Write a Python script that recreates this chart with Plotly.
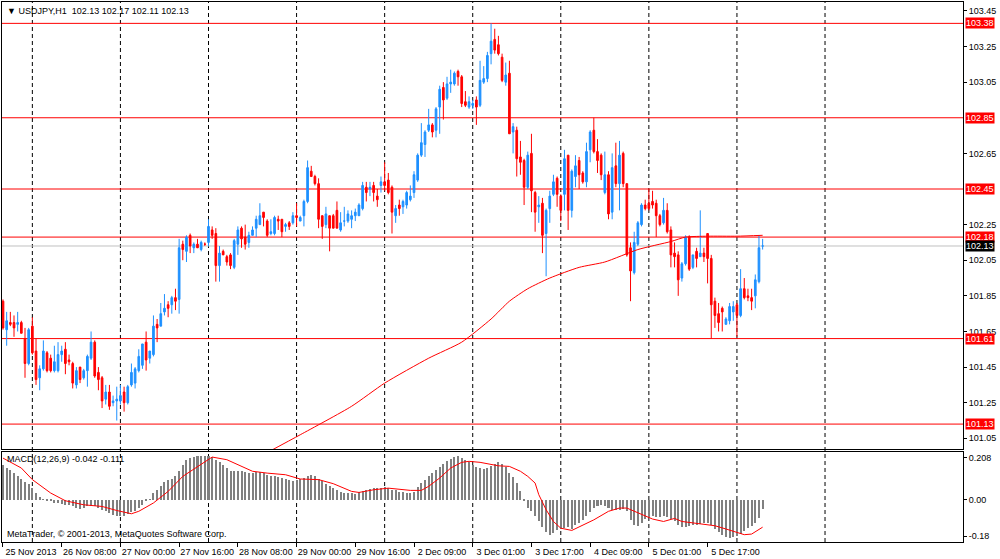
import plotly.graph_objects as go

# ---------------- data ----------------
OPEN = [
    101.82, 101.66, 101.70, 101.70, 101.69, 101.70, 101.61, 101.47, 101.68, 101.54,
    101.39, 101.44, 101.53, 101.50, 101.43, 101.43, 101.52, 101.55, 101.49, 101.47,
    101.35, 101.45, 101.39, 101.43, 101.50, 101.59, 101.42, 101.39, 101.27, 101.31,
    101.25, 101.26, 101.26, 101.31, 101.25, 101.35, 101.36, 101.43, 101.46, 101.59,
    101.50, 101.52, 101.69, 101.68, 101.76, 101.80, 101.80, 101.84, 101.83, 102.14,
    102.10, 102.19, 102.12, 102.14, 102.11, 102.14, 102.15, 102.22, 102.20, 102.02,
    102.10, 102.07, 102.08, 102.01, 102.14, 102.23, 102.18, 102.15, 102.19, 102.23,
    102.25, 102.32, 102.27, 102.20, 102.20, 102.28, 102.28, 102.24, 102.26, 102.26,
    102.30, 102.27, 102.30, 102.38, 102.55, 102.52, 102.48, 102.30, 102.25, 102.30,
    102.30, 102.33, 102.22, 102.27, 102.27, 102.28, 102.30, 102.30, 102.34, 102.46,
    102.45, 102.47, 102.41, 102.47, 102.49, 102.50, 102.46, 102.30, 102.36, 102.35,
    102.36, 102.39, 102.43, 102.50, 102.64, 102.70, 102.78, 102.81, 102.78, 102.91,
    103.02, 102.96, 103.04, 103.04, 103.11, 103.08, 102.94, 102.91, 102.92, 102.95,
    102.92, 103.05, 103.07, 103.21, 103.29, 103.26, 103.19, 103.05, 103.10, 102.77,
    102.78, 102.63, 102.61, 102.46, 102.65, 102.43, 102.35, 102.37, 102.20, 102.34,
    102.42, 102.51, 102.41, 102.42, 102.64, 102.33, 102.52, 102.61, 102.54, 102.49,
    102.67, 102.78, 102.66, 102.64, 102.43, 102.53, 102.32, 102.58, 102.48, 102.65,
    102.48, 102.12, 101.98, 102.14, 102.25, 102.36, 102.37, 102.38, 102.37, 102.30,
    102.26, 102.33, 102.22, 102.09, 102.08, 101.95, 102.03, 102.18, 102.01, 102.10,
    102.07, 102.09, 102.20, 102.06, 101.82, 101.75, 101.78, 101.69, 101.71, 101.76,
    101.80, 101.74, 101.89, 101.85, 101.84, 101.85, 101.93, 102.13,
]
HIGH = [
    101.83, 101.76, 101.76, 101.74, 101.76, 101.71, 101.67, 101.67, 101.73, 101.61,
    101.46, 101.60, 101.54, 101.52, 101.57, 101.59, 101.57, 101.59, 101.52, 101.48,
    101.45, 101.45, 101.44, 101.52, 101.65, 101.60, 101.45, 101.40, 101.35, 101.35,
    101.29, 101.34, 101.35, 101.34, 101.35, 101.47, 101.45, 101.55, 101.58, 101.65,
    101.54, 101.74, 101.72, 101.81, 101.86, 101.82, 101.85, 101.89, 102.17, 102.16,
    102.19, 102.20, 102.15, 102.17, 102.16, 102.15, 102.28, 102.24, 102.23, 102.13,
    102.11, 102.08, 102.09, 102.17, 102.24, 102.24, 102.25, 102.21, 102.24, 102.30,
    102.37, 102.32, 102.28, 102.28, 102.30, 102.30, 102.28, 102.26, 102.27, 102.32,
    102.37, 102.30, 102.39, 102.61, 102.58, 102.53, 102.51, 102.30, 102.35, 102.30,
    102.31, 102.38, 102.32, 102.35, 102.33, 102.33, 102.34, 102.37, 102.49, 102.49,
    102.49, 102.49, 102.45, 102.52, 102.60, 102.54, 102.47, 102.36, 102.39, 102.39,
    102.44, 102.47, 102.55, 102.65, 102.82, 102.78, 102.90, 102.82, 102.91, 103.03,
    103.05, 103.08, 103.12, 103.11, 103.12, 103.09, 103.00, 102.97, 102.95, 102.97,
    103.17, 103.14, 103.22, 103.38, 103.35, 103.31, 103.21, 103.16, 103.17, 102.82,
    102.80, 102.72, 102.62, 102.66, 102.76, 102.44, 102.41, 102.40, 102.34, 102.44,
    102.53, 102.52, 102.42, 102.67, 102.64, 102.56, 102.64, 102.63, 102.55, 102.71,
    102.78, 102.85, 102.73, 102.65, 102.66, 102.55, 102.65, 102.71, 102.72, 102.66,
    102.48, 102.15, 102.21, 102.27, 102.37, 102.39, 102.45, 102.44, 102.39, 102.31,
    102.40, 102.37, 102.24, 102.15, 102.10, 102.04, 102.19, 102.19, 102.08, 102.12,
    102.33, 102.12, 102.20, 102.08, 101.84, 101.81, 101.79, 101.73, 101.81, 101.82,
    101.81, 102.00, 101.95, 101.89, 101.89, 101.97, 102.19, 102.17,
]
LOW = [
    101.66, 101.57, 101.68, 101.62, 101.65, 101.64, 101.39, 101.46, 101.52, 101.35,
    101.32, 101.43, 101.42, 101.42, 101.42, 101.42, 101.48, 101.41, 101.46, 101.33,
    101.33, 101.36, 101.38, 101.34, 101.49, 101.39, 101.32, 101.22, 101.24, 101.21,
    101.23, 101.15, 101.24, 101.20, 101.24, 101.34, 101.33, 101.42, 101.44, 101.43,
    101.47, 101.51, 101.59, 101.68, 101.74, 101.73, 101.75, 101.77, 101.75, 102.05,
    102.04, 102.09, 102.09, 102.12, 102.10, 102.13, 102.13, 102.17, 101.93, 101.93,
    102.08, 102.02, 102.00, 102.00, 102.08, 102.12, 102.11, 102.12, 102.19, 102.18,
    102.25, 102.24, 102.18, 102.19, 102.19, 102.22, 102.18, 102.21, 102.22, 102.25,
    102.24, 102.27, 102.24, 102.37, 102.52, 102.47, 102.23, 102.17, 102.23, 102.10,
    102.23, 102.23, 102.21, 102.24, 102.26, 102.23, 102.27, 102.30, 102.33, 102.38,
    102.41, 102.38, 102.35, 102.43, 102.44, 102.42, 102.20, 102.26, 102.30, 102.31,
    102.34, 102.38, 102.40, 102.49, 102.63, 102.63, 102.77, 102.74, 102.74, 102.76,
    102.84, 102.95, 102.99, 103.03, 103.03, 102.91, 102.91, 102.90, 102.90, 102.81,
    102.91, 103.04, 103.05, 103.15, 103.21, 103.20, 103.05, 103.03, 102.76, 102.65,
    102.52, 102.53, 102.36, 102.45, 102.32, 102.21, 102.26, 102.09, 101.96, 102.26,
    102.41, 102.35, 102.27, 102.33, 102.22, 102.29, 102.46, 102.45, 102.48, 102.46,
    102.60, 102.65, 102.54, 102.50, 102.42, 102.28, 102.28, 102.46, 102.33, 102.46,
    102.07, 101.82, 101.97, 102.13, 102.24, 102.33, 102.33, 102.34, 102.18, 102.24,
    102.25, 102.20, 102.01, 102.01, 101.85, 101.93, 102.02, 101.99, 102.00, 102.01,
    102.07, 102.04, 101.92, 101.61, 101.67, 101.65, 101.65, 101.69, 101.69, 101.71,
    101.62, 101.73, 101.83, 101.82, 101.77, 101.78, 101.92, 102.11,
]
CLOSE = [
    101.67, 101.71, 101.69, 101.67, 101.70, 101.64, 101.47, 101.66, 101.53, 101.38,
    101.44, 101.54, 101.43, 101.43, 101.48, 101.52, 101.54, 101.47, 101.48, 101.36,
    101.43, 101.38, 101.43, 101.51, 101.59, 101.40, 101.38, 101.26, 101.31, 101.23,
    101.26, 101.27, 101.29, 101.25, 101.34, 101.42, 101.44, 101.51, 101.58, 101.49,
    101.54, 101.68, 101.67, 101.75, 101.78, 101.78, 101.84, 101.82, 102.12, 102.11,
    102.18, 102.13, 102.14, 102.12, 102.15, 102.14, 102.24, 102.19, 102.02, 102.09,
    102.08, 102.04, 102.02, 102.16, 102.22, 102.17, 102.14, 102.19, 102.22, 102.28,
    102.30, 102.29, 102.19, 102.21, 102.29, 102.27, 102.21, 102.25, 102.24, 102.30,
    102.29, 102.29, 102.38, 102.57, 102.52, 102.48, 102.28, 102.24, 102.31, 102.23,
    102.23, 102.23, 102.26, 102.27, 102.31, 102.30, 102.32, 102.36, 102.47, 102.43,
    102.46, 102.43, 102.39, 102.49, 102.47, 102.43, 102.32, 102.34, 102.34, 102.38,
    102.43, 102.41, 102.53, 102.64, 102.71, 102.77, 102.81, 102.77, 102.90, 103.01,
    102.95, 103.04, 103.05, 103.10, 103.08, 102.93, 102.92, 102.94, 102.93, 102.91,
    103.06, 103.07, 103.20, 103.28, 103.23, 103.21, 103.06, 103.09, 102.76, 102.80,
    102.62, 102.60, 102.46, 102.64, 102.44, 102.32, 102.36, 102.19, 102.33, 102.41,
    102.49, 102.42, 102.33, 102.62, 102.33, 102.55, 102.58, 102.53, 102.49, 102.66,
    102.77, 102.66, 102.61, 102.53, 102.53, 102.31, 102.57, 102.48, 102.64, 102.48,
    102.08, 101.99, 102.15, 102.26, 102.36, 102.34, 102.34, 102.36, 102.30, 102.25,
    102.33, 102.21, 102.08, 102.07, 101.94, 102.03, 102.18, 102.00, 102.08, 102.06,
    102.09, 102.07, 102.06, 101.80, 101.74, 101.70, 101.76, 101.72, 101.79, 101.79,
    101.74, 101.89, 101.84, 101.84, 101.82, 101.94, 102.12, 102.13,
]
BARS = list(range(len(CLOSE)))

MA_BARS = [72, 81, 95, 104, 116, 125, 133, 138, 143, 149, 157, 164, 173, 182, 186, 192, 200, 207]
MA_VALUES = [100.97, 101.07, 101.23, 101.36, 101.50, 101.59, 101.72, 101.82, 101.89, 101.95,
             102.01, 102.04, 102.11, 102.155, 102.18, 102.185, 102.185, 102.19]

MACD_HIST = [
    0.172, 0.156, 0.145, 0.131, 0.118, 0.102, 0.085, 0.079, 0.057, 0.033,
    0.013, 0.003, -0.005, -0.008, -0.016, -0.016, -0.020, -0.025, -0.028, -0.033,
    -0.041, -0.044, -0.041, -0.033, -0.030, -0.033, -0.041, -0.049, -0.054, -0.066,
    -0.074, -0.079, -0.082, -0.079, -0.069, -0.062, -0.053, -0.041, -0.025, -0.008,
    0.003, 0.033, 0.049, 0.069, 0.085, 0.095, 0.102, 0.118, 0.140, 0.172,
    0.194, 0.205, 0.210, 0.213, 0.213, 0.213, 0.217, 0.210, 0.197, 0.184,
    0.172, 0.156, 0.140, 0.140, 0.140, 0.140, 0.135, 0.131, 0.131, 0.135,
    0.135, 0.131, 0.123, 0.115, 0.115, 0.112, 0.107, 0.102, 0.095, 0.090,
    0.095, 0.102, 0.107, 0.115, 0.123, 0.118, 0.102, 0.090, 0.079, 0.066,
    0.057, 0.046, 0.036, 0.033, 0.033, 0.033, 0.030, 0.036, 0.041, 0.049,
    0.053, 0.057, 0.057, 0.057, 0.062, 0.057, 0.049, 0.046, 0.040, 0.036,
    0.033, 0.033, 0.036, 0.062, 0.082, 0.099, 0.115, 0.131, 0.145, 0.161,
    0.177, 0.189, 0.200, 0.210, 0.213, 0.205, 0.194, 0.184, 0.172, 0.161,
    0.156, 0.151, 0.156, 0.167, 0.177, 0.184, 0.177, 0.161, 0.131, 0.112,
    0.082, 0.041, -0.003, -0.041, -0.057, -0.079, -0.107, -0.135, -0.161, -0.172,
    -0.164, -0.151, -0.144, -0.140, -0.135, -0.144, -0.123, -0.115, -0.099, -0.082,
    -0.062, -0.041, -0.030, -0.025, -0.030, -0.041, -0.049, -0.049, -0.049, -0.046,
    -0.057, -0.099, -0.123, -0.128, -0.115, -0.095, -0.085, -0.082, -0.085, -0.085,
    -0.079, -0.085, -0.095, -0.107, -0.123, -0.135, -0.135, -0.128, -0.123, -0.123,
    -0.118, -0.115, -0.115, -0.123, -0.144, -0.161, -0.172, -0.184, -0.189, -0.184,
    -0.177, -0.167, -0.156, -0.140, -0.128, -0.112, -0.090, -0.045,
]
SIGNAL_BARS = [0, 5, 8, 13, 17, 22, 27, 31, 35, 37, 41, 45, 49, 54, 57, 61, 65, 68, 72, 77,
               81, 86, 90, 95, 97, 101, 105, 108, 111, 114, 116, 119, 122, 125, 127, 130, 133,
               135, 138, 141, 143, 145, 146, 148, 150, 152, 155, 157, 161, 165, 168, 170, 172,
               175, 177, 180, 183, 185, 190, 194, 197, 200, 202, 204, 207]
SIGNAL_VALUES = [0.205, 0.156, 0.099, 0.033, -0.005, -0.025, -0.033, -0.053, -0.069, -0.057,
                 -0.016, 0.041, 0.115, 0.177, 0.210, 0.197, 0.164, 0.140, 0.131, 0.123,
                 0.102, 0.099, 0.079, 0.041, 0.036, 0.049, 0.057, 0.053, 0.046, 0.046,
                 0.066, 0.107, 0.156, 0.184, 0.189, 0.184, 0.172, 0.167, 0.164, 0.140,
                 0.115, 0.082, 0.025, -0.049, -0.107, -0.140, -0.151, -0.135, -0.099, -0.057,
                 -0.041, -0.041, -0.057, -0.082, -0.095, -0.107, -0.092, -0.107, -0.118, -0.128,
                 -0.144, -0.161, -0.172, -0.169, -0.135]

LEVELS = [103.38, 102.85, 102.45, 102.18, 101.61, 101.13]
BID = 102.13
# 102.85 and 102.45 grid ticks are hidden under the red level labels in the picture
PRICE_TICKS = [101.05, 101.25, 101.45, 101.65, 101.85, 102.05, 102.25,
               102.65, 103.05, 103.25, 103.45]
MACD_TICKS = [0.208, 0.0, -0.18]
MACD_TICK_TEXT = ["0.208", "0.00", "-0.18"]
GRID_BARS = [8, 32, 56, 80, 104, 128, 152, 176, 200, 224]
LABEL_BARS = [0, 16, 32, 48, 64, 80, 96, 112, 128, 144, 160, 176, 192]
LABELS = ["25 Nov 2013", "26 Nov 08:00", "27 Nov 00:00", "27 Nov 16:00", "28 Nov 08:00",
          "29 Nov 00:00", "29 Nov 16:00", "2 Dec 09:00", "3 Dec 01:00", "3 Dec 17:00",
          "4 Dec 09:00", "5 Dec 01:00", "5 Dec 17:00"]
HEADER = "\u25BC USDJPY,H1\u00a0\u00a0102.13 102.17 102.11 102.13"
MACD_TITLE = "MACD(12,26,9) -0.042 -0.111"
COPYRIGHT = "MetaTrader, \u00a9 2001-2013, MetaQuotes Software Corp."

# ---------------- figure ----------------
FONT = "Liberation Sans, DejaVu Sans, sans-serif"
XR = [-0.27, 261.6]
MAIN_DOM = [0.1722, 1.0]
MACD_DOM = [0.0, 0.1667]

fig = go.Figure()
fig.add_trace(go.Candlestick(
    x=BARS, open=OPEN, high=HIGH, low=LOW, close=CLOSE,
    xaxis="x", yaxis="y", whiskerwidth=0,
    increasing=dict(line=dict(color="#1E90FF", width=1), fillcolor="#1E90FF"),
    decreasing=dict(line=dict(color="#FF0000", width=1), fillcolor="#FF0000"),
    showlegend=False, hoverinfo="skip"))
fig.add_trace(go.Scatter(x=MA_BARS, y=MA_VALUES, mode="lines", xaxis="x", yaxis="y",
                         line=dict(color="#FF0000", width=1, shape="spline", smoothing=0.6),
                         showlegend=False, hoverinfo="skip"))
fig.add_trace(go.Bar(x=BARS, y=MACD_HIST, xaxis="x2", yaxis="y2", width=0.55,
                     marker=dict(color="#808080", line=dict(width=0)),
                     showlegend=False, hoverinfo="skip"))
fig.add_trace(go.Scatter(x=SIGNAL_BARS, y=SIGNAL_VALUES, mode="lines", xaxis="x2", yaxis="y2",
                         line=dict(color="#FF0000", width=1), showlegend=False, hoverinfo="skip"))

shapes = []
for g in GRID_BARS:
    shapes.append(dict(type="line", xref="x", yref="paper", x0=g, x1=g, y0=0, y1=1,
                       line=dict(color="black", width=1, dash="4px,3px"), layer="below"))
for v in LEVELS:
    shapes.append(dict(type="line", xref="paper", yref="y", x0=0, x1=1, y0=v, y1=v,
                       line=dict(color="#FF0000", width=1), layer="below"))
shapes.append(dict(type="line", xref="paper", yref="y", x0=0, x1=1, y0=BID, y1=BID,
                   line=dict(color="#C0C0C0", width=1), layer="below"))

annotations = []
for v in LEVELS:
    annotations.append(dict(text=f"{v:.2f}", xref="paper", yref="y", x=1, y=v,
                            xanchor="left", yanchor="middle", xshift=2, showarrow=False,
                            bgcolor="#FF0000", borderpad=0,
                            font=dict(family=FONT, size=9, color="white")))
annotations.append(dict(text=f"{BID:.2f}", xref="paper", yref="y", x=1, y=BID,
                        xanchor="left", yanchor="middle", xshift=2, showarrow=False,
                        bgcolor="black", borderpad=0,
                        font=dict(family=FONT, size=9, color="white")))
annotations.append(dict(text=HEADER, xref="paper", yref="paper", x=0, y=1,
                        xanchor="left", yanchor="top", xshift=3, yshift=-2, showarrow=False,
                        font=dict(family=FONT, size=9, color="black")))
annotations.append(dict(text=MACD_TITLE, xref="paper", yref="paper", x=0, y=MACD_DOM[1],
                        xanchor="left", yanchor="top", xshift=3, yshift=0, showarrow=False,
                        font=dict(family=FONT, size=9, color="black")))
annotations.append(dict(text=COPYRIGHT, xref="paper", yref="paper", x=0, y=0,
                        xanchor="left", yanchor="bottom", xshift=3, yshift=1, showarrow=False,
                        font=dict(family=FONT, size=9, color="black")))

axis_common = dict(showline=True, mirror=True, linecolor="black", linewidth=1,
                   zeroline=False, showgrid=False)
fig.update_layout(
    width=1000, height=559,
    margin=dict(l=2, r=37, t=2, b=17, autoexpand=False),
    paper_bgcolor="white", plot_bgcolor="white",
    font=dict(family=FONT, size=9, color="black"),
    showlegend=False, bargap=0, boxgap=0.35,
    xaxis=dict(domain=[0, 1], anchor="y", range=XR, showticklabels=False, ticks="",
               rangeslider=dict(visible=False), **axis_common),
    yaxis=dict(domain=MAIN_DOM, anchor="x", side="right", range=[100.99, 103.50],
               tickvals=PRICE_TICKS, tickformat=".2f", ticks="outside", ticklen=3,
               tickcolor="black", **axis_common),
    xaxis2=dict(domain=[0, 1], anchor="y2", range=XR, tickvals=LABEL_BARS, ticktext=LABELS,
                ticks="outside", ticklen=4, tickcolor="black", ticklabelshift=28,
                ticklabelstandoff=-3, **axis_common),
    yaxis2=dict(domain=MACD_DOM, anchor="x2", side="right", range=[-0.208, 0.235],
                tickvals=MACD_TICKS, ticktext=MACD_TICK_TEXT, ticks="outside", ticklen=3,
                tickcolor="black", **axis_common),
    shapes=shapes, annotations=annotations,
)

fig.write_html("out.html", config={"displayModeBar": False},
               post_script="document.body.style.margin='0px';document.body.style.overflow='hidden';")
